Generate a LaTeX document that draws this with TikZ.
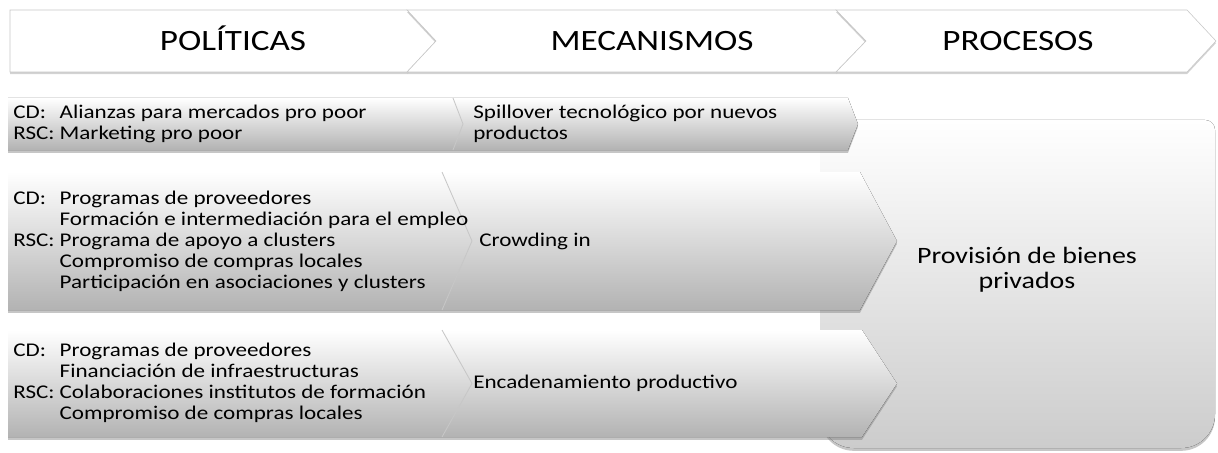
\documentclass[tikz,border=0pt]{standalone}
\usepackage{fontspec}
\setmainfont{Carlito}[FakeStretch=1.19]
\usetikzlibrary{shadows}
\newcommand{\lbl}[1]{\makebox[33pt][l]{#1}}
\newcommand{\cont}{\hspace*{33pt}}
\begin{document}
\begin{tikzpicture}[x=0.025cm, y=-0.025cm,
        headbox/.style={draw=black!22, fill=white, drop shadow={shadow xshift=0pt, shadow yshift=-1.5pt, opacity=0.35}},
        rowbox/.style={top color=white, bottom color=black!30, drop shadow={shadow xshift=0pt, shadow yshift=-2pt, opacity=0.45}},
        provbox/.style={top color=white, bottom color=black!20, drop shadow={shadow xshift=0pt, shadow yshift=-2pt, opacity=0.45}},
        notchline/.style={draw=black!22, line width=0.6pt},
        headtext/.style={font=\fontsize{21}{24}\selectfont, anchor=base},
        rowtext/.style={font=\fontsize{13.8}{14.9}\selectfont, align=left, anchor=west, inner sep=0pt}]
        \useasboundingbox (0,0) rectangle (1218,453);
        \fill [provbox] (820,120) [rounded corners=7pt] -- (1215,120) [rounded corners=24pt] -- (1215,448) -- (820,448) [sharp corners] -- cycle;
        \foreach \t/\b/\s/\n/\e/\p in {98/150/453/463/848/858, 172/310/442/472/860/897, 330/437/442/472/862/897} {
            \pgfmathsetmacro{\m}{(\t+\b)/2}
            \fill [rowbox] (8,\t) -- (\e,\t) -- (\p,\m) -- (\e,\b) -- (8,\b) -- cycle;
            \draw [notchline] (\s,\t) -- (\n,\m) -- (\s,\b);
        }
        \draw [headbox] (10,10) -- (407,10) -- (436,41) -- (407,72) -- (10,72) -- cycle;
        \draw [headbox] (407,10) -- (836,10) -- (866,41) -- (836,72) -- (407,72) -- (436,41) -- cycle;
        \draw [headbox] (836,10) -- (1187,10) -- (1216,41) -- (1187,72) -- (836,72) -- (866,41) -- cycle;
        \node [headtext] (pol) at (233,51) {POLÍTICAS};
        \node [headtext] (mec) at (652,51) {MECANISMOS};
        \node [headtext] (pro) at (1018,51) {PROCESOS};
        \node [rowtext] (pol1) at (13,124) {\lbl{CD:}Alianzas para mercados pro poor\\\lbl{RSC:}Marketing pro poor};
        \node [rowtext] (pol2) at (13,241) {\lbl{CD:}Programas de proveedores\\\cont Formación e intermediación para el empleo\\\lbl{RSC:}Programa de apoyo a clusters\\\cont Compromiso de compras locales\\\cont Participación en asociaciones y clusters};
        \node [rowtext] (pol3) at (13,383) {\lbl{CD:}Programas de proveedores\\\cont Financiación de infraestructuras\\\lbl{RSC:}Colaboraciones institutos de formación\\\cont Compromiso de compras locales};
        \node [rowtext] (mec1) at (473,124) {Spillover tecnológico por nuevos\\productos};
        \node [rowtext] (mec2) at (479,241) {Crowding in};
        \node [rowtext] (mec3) at (473,383) {Encadenamiento productivo};
        \node [align=center, font=\fontsize{16.7}{18}\selectfont] (prov) at (1027,270) {Provisión de bienes\\privados};
\end{tikzpicture}
\end{document}
